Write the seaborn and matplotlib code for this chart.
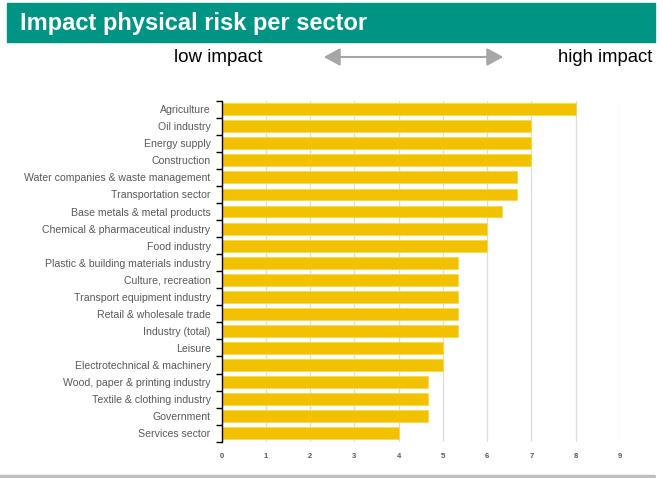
import matplotlib
matplotlib.use("Agg")
import matplotlib.pyplot as plt
import seaborn as sns
import pandas as pd
import numpy as np
from matplotlib.patches import Rectangle, FancyArrowPatch
from matplotlib.lines import Line2D

sectors = [
    "Agriculture", "Oil industry", "Energy supply", "Construction",
    "Water companies & waste management", "Transportation sector",
    "Base metals & metal products", "Chemical & pharmaceutical industry",
    "Food industry", "Plastic & building materials industry",
    "Culture, recreation", "Transport equipment industry",
    "Retail & wholesale trade", "Industry (total)", "Leisure",
    "Electrotechnical & machinery", "Wood, paper & printing industry",
    "Textile & clothing industry", "Government", "Services sector",
]
impact = [8, 7, 7, 7, 6.67, 6.67, 6.33, 6, 6, 5.33,
          5.33, 5.33, 5.33, 5.33, 5, 5, 4.67, 4.67, 4.67, 4]
x_ticks = [0, 1, 2, 3, 4, 5, 6, 7, 8, 9]

df = pd.DataFrame({"sector": sectors, "impact": impact})

sns.set_theme(style="white")
plt.rcParams["font.family"] = ["Liberation Sans", "DejaVu Sans"]

W, H = 663, 478
fig = plt.figure(figsize=(W / 100, H / 100), dpi=100)

# header band
fig.patches.append(Rectangle((7 / W, 1 - 42 / H), (655 - 7) / W, (42 - 3) / H,
                             transform=fig.transFigure, color="#009484", zorder=0))
fig.text(20 / W, 1 - 23.5 / H, "Impact physical risk per sector", color="white",
         fontsize=17, fontweight="bold", va="center", ha="left")

# low / high impact scale
fig.text(262 / W, 1 - 58 / H, "low impact", fontsize=13.5, ha="right", va="center", color="black")
fig.text(652 / W, 1 - 58 / H, "high impact", fontsize=13.3, ha="right", va="center", color="black")
arrow = FancyArrowPatch((321 / W, 1 - 57 / H), (506 / W, 1 - 57 / H),
                        transform=fig.transFigure, arrowstyle="<|-|>,head_length=0.55,head_width=0.3",
                        mutation_scale=18, color="#A6A6A6", lw=1.5)
fig.patches.append(arrow)

# bottom rule
fig.lines.append(Line2D([0, 654 / W], [1 - 476 / H, 1 - 476 / H],
                        transform=fig.transFigure, color="#BFBFBF", lw=2.5))

ax = fig.add_axes([221.7 / W, 1 - 441.7 / H, (620 - 221.7) / W, (441.7 - 100.7) / H])
sns.barplot(data=df, x="impact", y="sector", orient="h", color="#F2C200",
            width=0.7, edgecolor="#F7D84A", linewidth=0.6, saturation=1, ax=ax, zorder=3)

ax.set_xlim(0, 9)
ax.set_ylim(len(sectors) - 0.5, -0.5)
ax.set_xticks(x_ticks)
ax.set_xticklabels([str(t) for t in x_ticks], fontsize=5.5, fontweight="bold", color="#595959")
ax.set_xlabel("")
ax.set_ylabel("")
ax.tick_params(axis="y", length=0, labelsize=7.6, labelcolor="#595959", pad=8)
ax.tick_params(axis="x", length=0, pad=8)
ax.set_yticks(range(len(sectors)))
ax.set_yticks(np.arange(len(sectors) + 1) - 0.5, minor=True)
ax.tick_params(axis="y", which="minor", length=4, width=1, color="black", direction="out", left=True)

ax.grid(axis="x", color="#DDDDDD", lw=0.9, zorder=0)
ax.set_axisbelow(True)
for s in ["top", "right", "bottom"]:
    ax.spines[s].set_visible(False)
ax.spines["left"].set_color("black")
ax.spines["left"].set_linewidth(1.0)
ax.spines["left"].set_zorder(4)

fig.savefig("out.png", dpi=100)
